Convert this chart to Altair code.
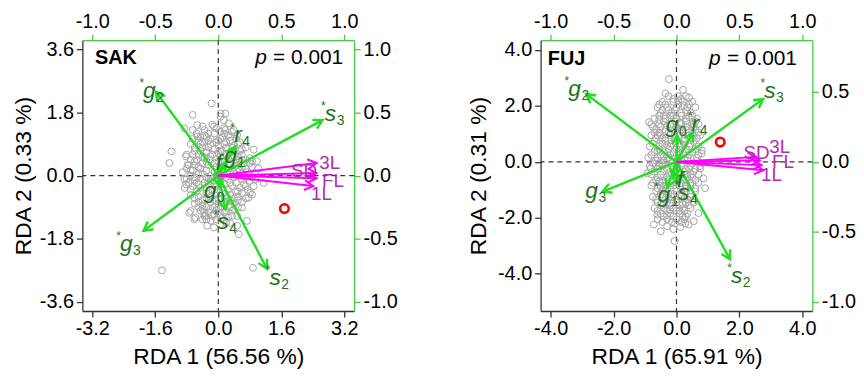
import altair as alt
import pandas as pd
import numpy as np

FONT = "Liberation Sans"
GREEN = "#22dd22"
GREEN_TXT = "#1b741b"
MAG = "#ff00ff"
MAG_TXT = "#b02db0"
AXIS_GREEN = "#44cc44"
GRAY = "#a6a6a6"

# ---------------- SAK ----------------
sak_sites = [
    (-0.17, 2.06), (-1.43, -2.70), (0.88, -2.63), (-0.65, 1.73), (-1.19, 0.69), (-1.24, 0.36),
    (0.06, 1.68), (-0.86, 1.35), (0.90, 0.74), (0.98, 0.41), (0.94, -0.11), (1.15, -0.21),
    (0.86, -0.54), (0.60, -0.91), (0.73, -1.29), (-0.74, -1.06), (-0.61, -1.24), (-0.19, -1.29),
    (-0.32, -1.15), (0.48, -1.15), (0.18, 1.30), (0.27, 1.49), (-0.53, 1.44), (-0.65, 1.30),
    (0.06, 1.77), (0.18, 1.77), (0.14, 1.58), (-0.11, 1.40), (-0.40, 1.40), (-0.82, 0.55),
    (-0.78, 0.31), (-0.86, -0.11), (-0.82, -0.25), (-0.70, -1.01), (-0.58, -1.20), (-0.28, -1.43),
    (-0.11, -1.48), (0.48, -1.43), (0.52, -1.67), (0.81, -0.49), (0.77, -0.63), (1.02, 0.20),
    (0.86, 0.41), (0.48, 1.16), (0.39, 1.30), (-0.36, -1.06), (-0.53, 1.11),
    (-0.7, 0.9), (-0.5, 1.0), (-0.3, 1.1), (-0.1, 1.2), (0.1, 1.1), (0.3, 1.0), (0.5, 0.9), (0.7, 0.8),
    (-0.8, 0.6), (-0.6, 0.7), (-0.4, 0.8), (-0.2, 0.9), (0.0, 0.85), (0.2, 0.8), (0.4, 0.7), (0.6, 0.6), (0.8, 0.5),
    (-0.75, 0.3), (-0.55, 0.45), (-0.35, 0.5), (-0.15, 0.6), (0.05, 0.55), (0.25, 0.5), (0.45, 0.45),
    (0.65, 0.35), (0.85, 0.25), (-0.9, 0.1), (-0.65, 0.15), (-0.45, 0.2), (-0.25, 0.3), (-0.05, 0.25),
    (0.15, 0.3), (0.35, 0.2), (0.55, 0.15), (0.75, 0.1), (0.95, 0.05), (-0.8, -0.1), (-0.6, -0.05),
    (-0.4, -0.1), (-0.2, 0.0), (0.0, -0.05), (0.2, 0.05), (0.4, -0.05), (0.6, -0.1), (0.8, -0.15),
    (-0.85, -0.35), (-0.65, -0.3), (-0.45, -0.35), (-0.25, -0.25), (-0.05, -0.3), (0.15, -0.25),
    (0.35, -0.3), (0.55, -0.35), (0.75, -0.4), (-0.7, -0.55), (-0.5, -0.6), (-0.3, -0.5), (-0.1, -0.55),
    (0.1, -0.5), (0.3, -0.55), (0.5, -0.6), (0.7, -0.65), (-0.6, -0.8), (-0.4, -0.85), (-0.2, -0.75),
    (0.0, -0.8), (0.2, -0.75), (0.4, -0.8), (0.6, -0.75), (-0.45, -1.0), (-0.25, -1.05), (-0.05, -1.0),
    (0.15, -1.05), (0.35, -1.0), (0.25, -1.2), (-0.05, -1.25), (-0.55, 1.2), (-0.35, 1.3), (0.35, 1.25),
    (0.15, 1.35), (-0.15, 1.45), (0.3, -1.35), (-0.4, -1.25), (-0.3, 0.15), (0.1, 0.4), (-0.1, -0.15),
    (0.25, -0.1), (0.5, 0.3), (-0.55, -0.2), (0.05, 0.7), (-0.3, 0.7), (0.45, -0.45), (-0.15, -0.4),
    (-0.6, 0.8), (-0.4, 0.95), (-0.2, 1.05), (0.0, 1.0), (0.2, 0.95), (0.4, 0.85), (0.6, 0.75),
    (-0.7, 0.45), (-0.5, 0.6), (-0.3, 0.65), (-0.1, 0.75), (0.1, 0.7), (0.3, 0.65), (0.5, 0.55), (0.7, 0.45),
    (-0.8, 0.2), (-0.6, 0.3), (-0.4, 0.35), (-0.2, 0.45), (0.0, 0.4), (0.2, 0.45), (0.4, 0.35), (0.6, 0.25),
    (0.8, 0.35), (-0.7, 0.0), (-0.5, 0.05), (-0.3, -0.05), (-0.1, 0.1), (0.1, 0.15), (0.3, 0.1), (0.5, 0.0),
    (0.7, -0.05), (0.9, -0.3), (-0.75, -0.2), (-0.55, -0.45), (-0.35, -0.2), (-0.15, -0.1), (0.05, -0.15),
    (0.25, -0.4), (0.45, -0.2), (0.65, -0.25), (-0.6, -0.65), (-0.4, -0.7), (-0.2, -0.6), (0.0, -0.65),
    (0.2, -0.65), (0.4, -0.65), (0.6, -0.5), (-0.5, -0.9), (-0.3, -0.9), (-0.1, -0.9), (0.1, -0.9),
    (0.3, -0.9), (0.5, -0.9), (-0.35, -1.15), (-0.15, -1.15), (0.05, -1.15), (0.2, -1.35), (0.05, -1.4),
    (-0.45, 1.1), (-0.25, 1.2), (0.05, 1.25), (0.25, 1.15), (-0.05, 1.35), (0.45, 1.05), (-0.65, 1.05),
    (-0.65, 0.6), (-0.45, 0.7), (-0.25, 0.8), (-0.05, 0.95), (0.15, 0.9), (0.35, 0.8), (0.55, 0.7),
    (-0.6, 0.4), (-0.4, 0.55), (-0.2, 0.55), (0.0, 0.65), (0.2, 0.6), (0.4, 0.55), (0.6, 0.45),
    (-0.7, 0.15), (-0.5, 0.25), (-0.3, 0.4), (-0.1, 0.35), (0.1, 0.25), (0.3, 0.3), (0.5, 0.2), (0.7, 0.2),
    (-0.6, -0.15), (-0.4, 0.05), (-0.2, -0.15), (0.0, 0.1), (0.2, -0.05), (0.4, 0.1), (0.6, 0.05), (0.85, -0.05),
    (-0.7, -0.4), (-0.5, -0.25), (-0.3, -0.35), (-0.1, -0.4), (0.1, -0.35), (0.3, -0.2), (0.5, -0.45), (0.7, -0.3),
    (-0.5, -0.75), (-0.3, -0.65), (-0.1, -0.7), (0.1, -0.65), (0.3, -0.7), (0.5, -0.7),
    (-0.4, -0.95), (-0.2, -0.95), (0.0, -0.9), (0.2, -1.0), (0.4, -0.95),
    (-0.3, -1.25), (-0.1, -1.1), (0.1, -1.2), (0.35, -1.15),
    (-0.45, 0.9), (-0.25, 1.0), (0.05, 1.05), (0.3, 1.1), (0.55, 0.95), (-0.35, 1.15), (0.15, 1.2),
]
sak_red = (1.68, -0.94)
sak_env_main = ["g", "s", "g", "s", "r", "g", "f", "g", "s"]
sak_env_sub = ["2", "3", "3", "2", "4", "1", "", "0", "4"]
sak_env_star = ["*", "*", "*", "*", "*", "", "", "", "*"]
sak_env_x = [-0.494, 0.827, -0.593, 0.386, 0.136, 0.058, 0.020, 0.005, 0.058]
sak_env_y = [0.663, 0.440, -0.437, -0.738, 0.231, 0.100, 0.050, -0.083, -0.267]
sak_envlab_x = [-0.546, 0.890, -0.730, 0.451, 0.157, 0.097, 0.006, -0.065, 0.037]
sak_envlab_y = [0.667, 0.485, -0.540, -0.812, 0.318, 0.152, 0.100, -0.120, -0.372]
sak_tr_names = ["3L", "SD", "FL", "1L"]
sak_tr_x = [0.780, 0.780, 0.780, 0.754]
sak_tr_y = [0.100, 0.020, -0.020, -0.083]
sak_trlab_x = [0.884, 0.680, 0.911, 0.819]
sak_trlab_y = [0.100, 0.039, -0.045, -0.144]

# ---------------- FUJ ----------------
fuj_sites = [
    (-0.24, 2.96), (0.21, 2.58), (-0.06, -2.83), (-0.87, 1.42), (-0.82, -0.23), (-0.93, -0.41),
    (0.81, 0.41), (0.55, -2.12), (-0.72, -2.24), (-0.61, -1.89), (-0.50, -2.48), (0.39, -2.24),
    (0.70, -1.83), (0.76, -0.23), (0.86, -0.59), (0.91, -0.94), (0.80, 0.30), (-0.30, -2.30),
    (-0.10, -2.40), (0.12, -2.33), (0.28, -2.20), (-0.35, 2.45), (0.40, 2.30), (-0.55, 2.05),
    (-0.25, 2.35), (0.05, 2.35), (0.30, 2.35),
    (-0.45, 2.15), (-0.10, 2.15), (0.20, 2.15), (0.50, 2.15),
    (-0.60, 1.95), (-0.30, 1.95), (0.00, 1.95), (0.35, 1.95), (0.60, 1.95),
    (-0.50, 1.75), (-0.15, 1.75), (0.15, 1.75), (0.45, 1.75),
    (-0.70, 1.55), (-0.35, 1.55), (0.00, 1.55), (0.30, 1.55), (0.65, 1.55),
    (-0.80, 1.35), (-0.55, 1.35), (-0.20, 1.35), (0.15, 1.35), (0.50, 1.35), (0.70, 1.35),
    (-0.65, 1.15), (-0.35, 1.15), (-0.05, 1.15), (0.30, 1.15), (0.60, 1.15),
    (-0.80, 0.95), (-0.50, 0.95), (-0.20, 0.95), (0.10, 0.95), (0.40, 0.95), (0.75, 0.95),
    (-0.70, 0.75), (-0.35, 0.75), (-0.05, 0.75), (0.25, 0.75), (0.55, 0.75),
    (-0.85, 0.55), (-0.55, 0.55), (-0.20, 0.55), (0.10, 0.55), (0.40, 0.55), (0.70, 0.55),
    (-0.70, 0.35), (-0.40, 0.35), (-0.10, 0.35), (0.20, 0.35), (0.50, 0.35),
    (-0.90, 0.15), (-0.60, 0.15), (-0.25, 0.15), (0.05, 0.15), (0.35, 0.15), (0.65, 0.15),
    (-0.75, -0.05), (-0.45, -0.05), (-0.15, -0.05), (0.20, -0.05), (0.50, -0.05), (0.80, -0.05),
    (-0.60, -0.25), (-0.30, -0.25), (0.00, -0.25), (0.30, -0.25), (0.60, -0.25),
    (-0.80, -0.45), (-0.50, -0.45), (-0.15, -0.45), (0.15, -0.45), (0.45, -0.45), (0.70, -0.45),
    (-0.65, -0.65), (-0.35, -0.65), (0.00, -0.65), (0.30, -0.65), (0.60, -0.65),
    (-0.80, -0.85), (-0.50, -0.85), (-0.20, -0.85), (0.10, -0.85), (0.45, -0.85),
    (-0.65, -1.05), (-0.35, -1.05), (0.00, -1.05), (0.30, -1.05), (0.60, -1.05),
    (-0.75, -1.25), (-0.45, -1.25), (-0.15, -1.25), (0.15, -1.25), (0.45, -1.25),
    (-0.60, -1.45), (-0.30, -1.45), (0.00, -1.45), (0.30, -1.45), (0.55, -1.45),
    (-0.70, -1.65), (-0.40, -1.65), (-0.10, -1.65), (0.20, -1.65), (0.45, -1.65),
    (-0.50, -1.85), (-0.20, -1.85), (0.10, -1.85), (0.35, -1.85),
    (-0.60, -2.05), (-0.30, -2.05), (0.00, -2.05), (0.25, -2.05),
    (-0.40, 0.05), (0.00, 0.45), (0.35, -0.55), (-0.25, -1.15), (0.20, 1.05), (-0.10, 1.65),
    (0.50, 0.85), (-0.55, -0.15),
    (-0.10, 2.25), (0.15, 2.25), (-0.35, 2.05), (0.05, 2.05), (0.40, 2.05),
    (-0.45, 1.85), (-0.05, 1.85), (0.30, 1.85), (-0.55, 1.65), (-0.20, 1.65), (0.15, 1.65), (0.50, 1.65),
    (-0.40, 1.45), (-0.05, 1.45), (0.30, 1.45), (0.60, 1.45), (-0.75, 1.25), (-0.50, 1.25), (0.00, 1.25),
    (0.30, 1.25), (0.55, 1.25), (-0.55, 1.05), (-0.25, 1.05), (0.40, 1.05), (0.70, 1.05),
    (-0.65, 0.85), (-0.35, 0.85), (-0.05, 0.85), (0.25, 0.85), (0.65, 0.85),
    (-0.75, 0.65), (-0.45, 0.65), (-0.15, 0.65), (0.15, 0.65), (0.45, 0.65),
    (-0.55, 0.45), (-0.25, 0.45), (0.30, 0.45), (0.60, 0.45),
    (-0.80, 0.25), (-0.50, 0.25), (-0.20, 0.25), (0.10, 0.25), (0.40, 0.25), (0.70, 0.25),
    (-0.65, 0.05), (-0.30, 0.05), (0.05, 0.05), (0.35, 0.05), (0.65, 0.05),
    (-0.85, -0.15), (-0.45, -0.15), (-0.15, -0.15), (0.15, -0.15), (0.45, -0.15), (0.75, -0.15),
    (-0.70, -0.35), (-0.40, -0.35), (-0.05, -0.35), (0.25, -0.35), (0.55, -0.35),
    (-0.60, -0.55), (-0.30, -0.55), (0.05, -0.55), (0.50, -0.55),
    (-0.75, -0.75), (-0.45, -0.75), (-0.15, -0.75), (0.15, -0.75), (0.45, -0.75), (0.70, -0.75),
    (-0.60, -0.95), (-0.30, -0.95), (0.00, -0.95), (0.30, -0.95), (0.60, -0.95),
    (-0.50, -1.15), (-0.15, -1.15), (0.15, -1.15), (0.45, -1.15),
    (-0.65, -1.35), (-0.35, -1.35), (0.00, -1.35), (0.35, -1.35),
    (-0.50, -1.55), (-0.20, -1.55), (0.10, -1.55), (0.40, -1.55),
    (-0.60, -1.75), (-0.30, -1.75), (0.00, -1.75), (0.25, -1.75),
    (-0.40, -1.95), (-0.10, -1.95), (0.20, -1.95), (-0.45, -2.15), (-0.15, -2.15), (0.15, -2.15),
    (-0.55, 1.50), (0.40, 1.60), (-0.30, 1.30), (0.10, 1.40), (-0.70, 1.05), (0.15, 1.15),
    (-0.45, 0.85), (0.50, 1.00), (-0.30, 0.60), (0.25, 0.60), (-0.60, 0.40), (0.05, 0.35),
    (-0.40, 0.20), (0.25, 0.10), (-0.55, -0.05), (0.00, -0.10), (0.40, -0.25), (-0.25, -0.40),
    (0.30, -0.45), (-0.55, -0.70), (0.20, -0.60), (-0.35, -0.85), (0.30, -0.85), (-0.45, -1.00),
    (0.15, -1.00), (-0.25, -1.30), (0.25, -1.30), (-0.40, -1.50), (0.20, -1.50), (-0.20, -1.70),
    (0.10, -1.75), (-0.30, -1.90), (0.30, -1.95), (-0.05, -2.20), (0.05, 2.20), (-0.25, 1.85),
    (0.25, 2.00), (-0.40, 1.65), (0.55, 1.35), (-0.60, 0.95),
]
fuj_red = (1.39, 0.71)
fuj_env_main = ["g", "s", "g", "s", "g", "r", "f", "g", "s"]
fuj_env_sub = ["2", "3", "3", "2", "0", "4", "", "1", "4"]
fuj_env_star = ["*", "*", "", "*", "", "*", "", "*", "*"]
fuj_env_x = [-0.718, 0.689, -0.587, 0.426, 0.005, 0.131, -0.030, -0.074, 0.010]
fuj_env_y = [0.485, 0.450, -0.212, -0.697, 0.189, 0.209, -0.110, -0.184, -0.150]
fuj_envlab_x = [-0.810, 0.742, -0.674, 0.478, -0.035, 0.150, 0.030, -0.100, 0.058]
fuj_envlab_y = [0.520, 0.509, -0.212, -0.815, 0.260, 0.272, -0.130, -0.236, -0.224]
fuj_tr_names = ["3L", "SD", "FL", "1L"]
fuj_tr_x = [0.636, 0.663, 0.676, 0.689]
fuj_tr_y = [0.036, 0.012, -0.023, -0.059]
fuj_trlab_x = [0.820, 0.636, 0.847, 0.755]
fuj_trlab_y = [0.107, 0.060, 0.000, -0.094]

W, H = 274, 273
LETTER_W = {"g": 12.8, "s": 11.5, "r": 7.7, "f": 6.4}
ARROW = "M-1,-0.55L0,0L-1,0.55"


def lab_expr(fmt):
    return (f"datum.value < 0 ? '-' + format(-datum.value, '{fmt}') "
            f": format(datum.value, '{fmt}')")


def panel(name, sites, red, env, trait, xdom, ydom, sxdom, sydom,
          xvals, yvals, sxvals, syvals, xtitle, ytitle, name_pos, p_pos, ytitle_x):
    sx_px = W / (sxdom[1] - sxdom[0])
    sy_px = H / (sydom[1] - sydom[0])

    def PX(f):
        return alt.X(f, type="quantitative",
                     scale=alt.Scale(domain=xdom, nice=False, zero=False),
                     axis=alt.Axis(orient="bottom", values=xvals, labelExpr=lab_expr(".1f"),
                                   domainColor="#333333", tickColor="#333333",
                                   labelPadding=2, titlePadding=7),
                     title=xtitle)

    def PY(f):
        return alt.Y(f, type="quantitative",
                     scale=alt.Scale(domain=ydom, nice=False, zero=False),
                     axis=alt.Axis(orient="left", values=yvals, labelExpr=lab_expr(".1f"),
                                   domainColor="#333333", tickColor="#333333",
                                   titleX=ytitle_x, titleY=H / 2),
                     title=ytitle)

    def SX(f):
        return alt.X(f, type="quantitative",
                     scale=alt.Scale(domain=sxdom, nice=False, zero=False),
                     axis=alt.Axis(orient="top", values=sxvals, labelExpr=lab_expr(".1f"),
                                   domainColor=AXIS_GREEN, tickColor=AXIS_GREEN),
                     title=None)

    def SY(f):
        return alt.Y(f, type="quantitative",
                     scale=alt.Scale(domain=sydom, nice=False, zero=False),
                     axis=alt.Axis(orient="right", values=syvals, labelExpr=lab_expr(".1f"),
                                   domainColor=AXIS_GREEN, tickColor=AXIS_GREEN),
                     title=None)

    site_df = pd.DataFrame(sites, columns=["x", "y"])
    red_df = pd.DataFrame([red], columns=["x", "y"])
    zero_df = pd.DataFrame({"x": [0.0], "y": [0.0]})
    ann_df = pd.DataFrame({"x": [name_pos[0]], "y": [name_pos[1]], "t": [name]})
    p_df = pd.DataFrame({"x": [p_pos[0]], "y": [p_pos[1]], "t": ["= 0.001"], "p": ["p"]})

    vline = alt.Chart(zero_df).mark_rule(color="#333333", strokeDash=[5, 4], strokeWidth=1.2).encode(x=PX("x"))
    hline = alt.Chart(zero_df).mark_rule(color="#333333", strokeDash=[5, 4], strokeWidth=1.2).encode(y=PY("y"))
    pts = alt.Chart(site_df).mark_point(shape="circle", filled=False, color=GRAY, size=48,
                                        strokeWidth=1, opacity=1).encode(x=PX("x"), y=PY("y"))
    redpt = alt.Chart(red_df).mark_point(shape="circle", filled=False, color="#ff0000", size=75,
                                         strokeWidth=2.6, opacity=1).encode(x=PX("x"), y=PY("y"))
    nm = alt.Chart(ann_df).mark_text(font=FONT, fontSize=20, fontWeight="bold", align="left",
                                     baseline="middle", color="black").encode(x=PX("x"), y=PY("y"), text="t:N")
    pv = alt.Chart(p_df).mark_text(font=FONT, fontSize=21, align="right", baseline="middle",
                                   color="black").encode(x=PX("x"), y=PY("y"), text="t:N")
    pp = alt.Chart(p_df).mark_text(font=FONT, fontSize=21, fontStyle="italic", align="right",
                                   baseline="middle", color="black", dx=-77).encode(x=PX("x"), y=PY("y"), text="p:N")
    primary = alt.layer(vline, hline, pts, redpt, nm, pv, pp)

    main, sub, star, ex, ey, lx, ly = env
    e = pd.DataFrame({"main": main, "sub": sub, "star": star, "ex": ex, "ey": ey, "lx": lx, "ly": ly})
    e["x0"] = 0.0
    e["y0"] = 0.0
    e["ang"] = (np.degrees(np.arctan2(-e["ey"] * sy_px, e["ex"] * sx_px)) + 360) % 360
    hw = e["main"].map(LETTER_W) / 2
    e["subx"] = e["lx"] + (hw + 0.5) / sx_px
    e["suby"] = e["ly"] - 7 / sy_px
    e["starx"] = e["lx"] - (hw - 1) / sx_px
    e["stary"] = e["ly"] + 8 / sy_px

    tnames, tx, ty, tlx, tly = trait
    t = pd.DataFrame({"name": tnames, "ex": tx, "ey": ty, "lx": tlx, "ly": tly})
    t["x0"] = 0.0
    t["y0"] = 0.0
    t["ang"] = (np.degrees(np.arctan2(-t["ey"] * sy_px, t["ex"] * sx_px)) + 360) % 360

    e_rule = alt.Chart(e).mark_rule(color=GREEN, strokeWidth=2.4).encode(
        x=SX("x0"), y=SY("y0"), x2="ex:Q", y2="ey:Q")
    e_head = alt.Chart(e).mark_point(shape=ARROW, filled=False, color=GREEN, size=320,
                                     strokeWidth=2.4, opacity=1).encode(
        x=SX("ex"), y=SY("ey"), angle=alt.Angle("ang:Q", scale=None))
    t_rule = alt.Chart(t).mark_rule(color=MAG, strokeWidth=2).encode(
        x=SX("x0"), y=SY("y0"), x2="ex:Q", y2="ey:Q")
    t_head = alt.Chart(t).mark_point(shape=ARROW, filled=False, color=MAG, size=320,
                                     strokeWidth=2, opacity=1).encode(
        x=SX("ex"), y=SY("ey"), angle=alt.Angle("ang:Q", scale=None))
    e_main = alt.Chart(e).mark_text(font=FONT, fontSize=23, fontStyle="italic", align="center",
                                    baseline="middle", color=GREEN_TXT).encode(
        x=SX("lx"), y=SY("ly"), text="main:N")
    e_sub = alt.Chart(e).mark_text(font=FONT, fontSize=14, align="left", baseline="middle",
                                   color=GREEN_TXT).encode(x=SX("subx"), y=SY("suby"), text="sub:N")
    e_star = alt.Chart(e).mark_text(font=FONT, fontSize=12, align="right", baseline="middle",
                                    color=GREEN_TXT).encode(x=SX("starx"), y=SY("stary"), text="star:N")
    t_lab = alt.Chart(t).mark_text(font=FONT, fontSize=19, align="center", baseline="middle",
                                   color=MAG_TXT).encode(x=SX("lx"), y=SY("ly"), text="name:N")
    secondary = alt.layer(e_rule, e_head, t_rule, t_head, t_lab, e_main, e_sub, e_star)

    return alt.layer(primary, secondary).resolve_scale(x="independent", y="independent").properties(
        width=W, height=H)


p1 = panel("SAK", sak_sites, sak_red,
           (sak_env_main, sak_env_sub, sak_env_star, sak_env_x, sak_env_y, sak_envlab_x, sak_envlab_y),
           (sak_tr_names, sak_tr_x, sak_tr_y, sak_trlab_x, sak_trlab_y),
           [-3.45, 3.45], [-3.86, 3.86], [-1.078, 1.078], [-1.073, 1.073],
           [-3.2, -1.6, 0, 1.6, 3.2], [-3.6, -1.8, 0, 1.8, 3.6],
           [-1, -0.5, 0, 0.5, 1], [-1, -0.5, 0, 0.5, 1],
           "RDA 1 (56.56 %)", "RDA 2 (0.33 %)", (-3.13, 3.35), (3.17, 3.35), -47)

p2 = panel("FUJ", fuj_sites, fuj_red,
           (fuj_env_main, fuj_env_sub, fuj_env_star, fuj_env_x, fuj_env_y, fuj_envlab_x, fuj_envlab_y),
           (fuj_tr_names, fuj_tr_x, fuj_tr_y, fuj_trlab_x, fuj_trlab_y),
           [-4.32, 4.32], [-5.33, 4.35], [-1.08, 1.08], [-1.066, 0.87],
           [-4, -2, 0, 2, 4], [-4, -2, 0, 2, 4],
           [-1, -0.5, 0, 0.5, 1], [-1, -0.5, 0, 0.5],
           "RDA 1 (65.91 %)", "RDA 2 (0.31 %)", (-4.09, 3.69), (3.83, 3.69), -51)

chart = alt.hconcat(p1, p2, spacing=69).configure_view(strokeWidth=0).configure_axis(
    labelFont=FONT, titleFont=FONT, labelFontSize=20, titleFontSize=23,
    labelColor="black", titleColor="black", titleFontWeight="normal",
    tickSize=6, domainWidth=1.3, tickWidth=1.3, grid=False, labelPadding=3,
).properties(padding={"left": 4, "top": 2, "right": 0, "bottom": 0})

chart.save("out.html", embed_options={"renderer": "svg", "actions": False})
